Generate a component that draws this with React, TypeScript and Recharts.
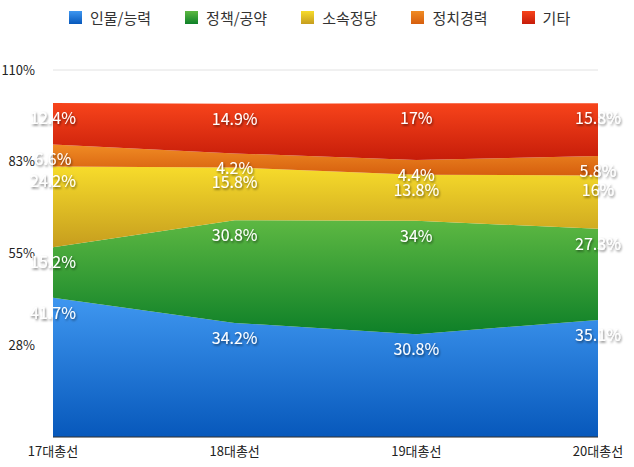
import {
  Area,
  AreaChart,
  CartesianGrid,
  LabelList,
  XAxis,
  YAxis,
} from 'recharts'

const elections = ['17대총선', '18대총선', '19대총선', '20대총선']
const person = [41.7, 34.2, 30.8, 35.1]
const policy = [15.2, 30.8, 34, 27.3]
const party = [24.2, 15.8, 13.8, 16]
const career = [6.6, 4.2, 4.4, 5.8]
const other = [12.4, 14.9, 17, 15.8]
const yTicks = [27.5, 55, 82.5, 110]

const series = [
  { key: 'person', name: '인물/능력', values: person, top: '#3f97f0', bottom: '#0758bb' },
  { key: 'policy', name: '정책/공약', values: policy, top: '#5db842', bottom: '#0e8028' },
  { key: 'party', name: '소속정당', values: party, top: '#f7dc2b', bottom: '#c69d1e' },
  { key: 'career', name: '정치경력', values: career, top: '#f08c24', bottom: '#d65e0e' },
  { key: 'other', name: '기타', values: other, top: '#f7441b', bottom: '#c61c09' },
]

const data = elections.map((name, i) => {
  const row: Record<string, string | number> = { name }
  series.forEach((s) => {
    row[s.key] = s.values[i]
  })
  return row
})

const FONT = '"Noto Sans CJK KR", "Noto Sans", sans-serif'

function ValueLabel(props: any) {
  const { x, y, value } = props
  if (x == null || y == null) return null
  return (
    <text
      x={x}
      y={y + 14}
      textAnchor="middle"
      dominantBaseline="central"
      fill="#fff"
      fontSize={16}
      fontFamily={FONT}
      filter="url(#labelShadow)"
    >
      {`${value}%`}
    </text>
  )
}

function Legend() {
  return (
    <div
      style={{
        position: 'absolute',
        top: 7,
        left: 69,
        display: 'flex',
        gap: 34,
        fontFamily: FONT,
        fontSize: 15,
        color: '#333',
      }}
    >
      {series.map((s) => (
        <div key={s.key} style={{ display: 'flex', alignItems: 'center', gap: 8 }}>
          <span
            style={{
              display: 'inline-block',
              width: 13,
              height: 13,
              background: `linear-gradient(${s.top}, ${s.bottom})`,
            }}
          />
          <span>{s.name}</span>
        </div>
      ))}
    </div>
  )
}

export default function App() {
  return (
    <div style={{ position: 'absolute', left: 0, top: 0, width: 634, height: 467, background: '#fff' }}>
      <Legend />
      <AreaChart
        width={634}
        height={467}
        data={data}
        margin={{ top: 70, right: 36, bottom: 0, left: 0 }}
      >
        <defs>
          {series.map((s) => (
            <linearGradient key={s.key} id={`grad-${s.key}`} x1="0" y1="0" x2="0" y2="1">
              <stop offset="0%" stopColor={s.top} />
              <stop offset="100%" stopColor={s.bottom} />
            </linearGradient>
          ))}
          <filter id="labelShadow" x="-20%" y="-20%" width="140%" height="160%">
            <feDropShadow dx="1" dy="1.5" stdDeviation="1" floodColor="#000" floodOpacity="0.55" />
          </filter>
        </defs>
        <CartesianGrid vertical={false} stroke="#e2e2e2" />
        <XAxis
          dataKey="name"
          tickLine={false}
          axisLine={{ stroke: '#333' }}
          tick={{ fontSize: 13, fill: '#222', fontFamily: FONT }}
          tickMargin={4}
          interval={0}
        />
        <YAxis
          width={53}
          domain={[0, 110]}
          ticks={yTicks}
          tickFormatter={(v: number) => `${Math.round(v)}%`}
          tickLine={false}
          axisLine={false}
          tickMargin={12}
          tick={{ fontSize: 13, fill: '#222', fontFamily: FONT }}
        />
        {series.map((s) => (
          <Area
            key={s.key}
            type="linear"
            dataKey={s.key}
            name={s.name}
            stackId="1"
            stroke="none"
            fill={`url(#grad-${s.key})`}
            fillOpacity={1}
            isAnimationActive={false}
          >
            <LabelList dataKey={s.key} content={ValueLabel} />
          </Area>
        ))}
      </AreaChart>
    </div>
  )
}
